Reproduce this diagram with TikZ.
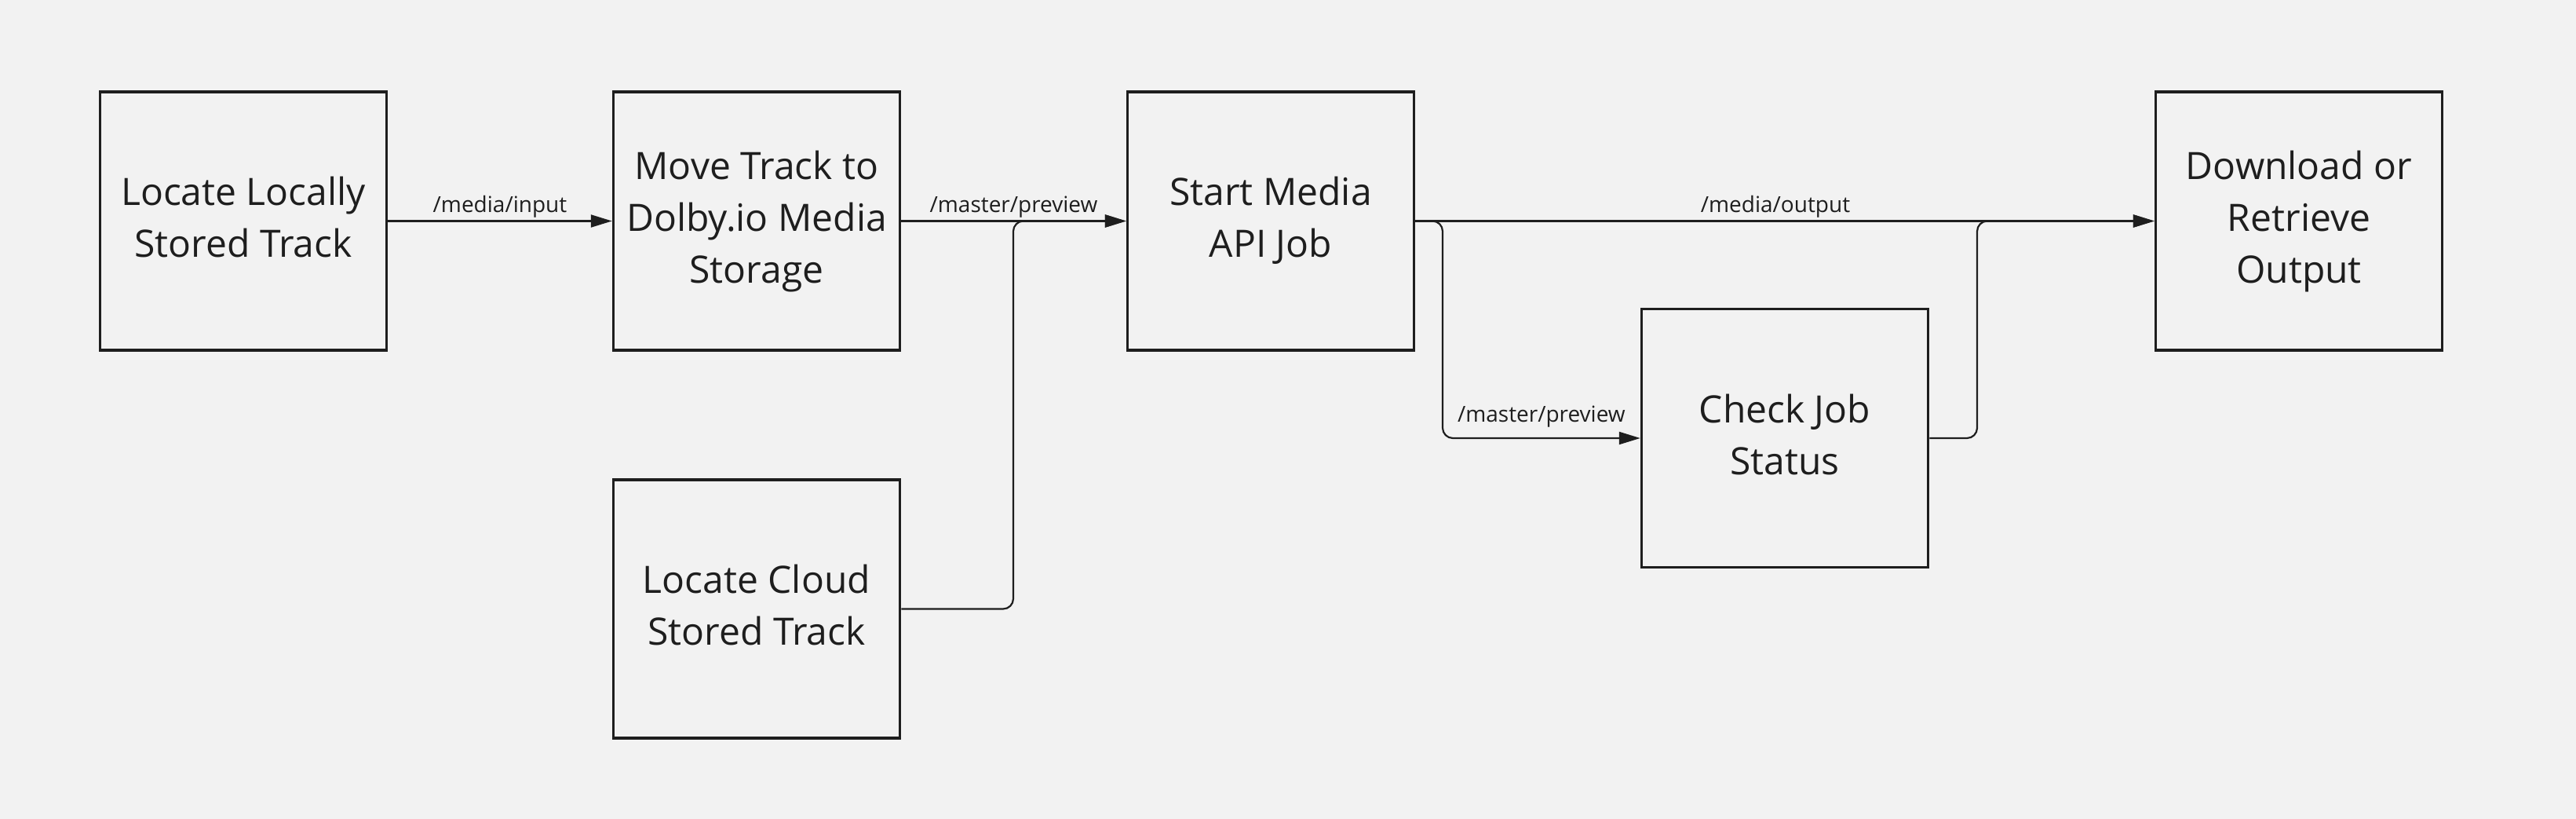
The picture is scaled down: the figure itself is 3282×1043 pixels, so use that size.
\documentclass[tikz,border=0pt]{standalone}
\usepackage{fontspec}
\setmainfont{Open Sans}
\usetikzlibrary{arrows.meta}
\definecolor{bg}{HTML}{F2F2F2}
\definecolor{ink}{HTML}{1E1E1E}
\newcommand\boxtext[1]{\begin{tabular}{@{}c@{}}#1\end{tabular}}
\begin{document}
\begin{tikzpicture}[x=1pt,y=-1pt,
  box/.style={draw=ink, line width=3.5pt, minimum width=365pt, minimum height=329pt,
    inner sep=0pt, text=ink, font=\fontsize{48}{66}\selectfont},
  conn/.style={draw=ink, line width=2.2pt, rounded corners=13pt,
    -{Triangle[length=27pt,width=16pt]}},
  lbl/.style={above=1pt, inner sep=2pt, text=ink, font=\fontsize{28}{32}\selectfont}]
\fill[bg] (0,0) rectangle (3282,1043);
\useasboundingbox (0,0) rectangle (3282,1043);

\node[box] (b1) at (310,281.5) {\boxtext{Locate Locally\\Stored Track}};
\node[box] (b2) at (964,281.5) {\boxtext{Move Track to\\Dolby.io Media\\Storage}};
\node[box] (b3) at (1619,281.5) {\boxtext{Start Media\\API Job}};
\node[box] (b4) at (2929,281.5) {\boxtext{Download or\\Retrieve\\Output}};
\node[box] (b5) at (964,775.5) {\boxtext{Locate Cloud\\Stored Track}};
\node[box] (b6) at (2274,558) {\boxtext{Check Job\\Status}};

\coordinate (j1) at (1291,281.5);
\coordinate (j2) at (1838,281.5);
\coordinate (j3) at (2519,281.5);

\draw[conn] (b1.east) -- node[lbl]{/media/input} (b2.west);
\draw[conn] (b2.east) -- node[lbl]{/master/preview} (b3.west);
\draw[conn] (b5.east) -- (j1 |- b5.east) -- (j1) -- (b3.west);
\draw[conn] (b3.east) -- node[lbl, xshift=-12pt]{/media/output} (b4.west);
\draw[conn] (b3.east) -- (j2) -- (j2 |- b6.west) -- node[lbl, above=10pt]{/master/preview} (b6.west);
\draw[conn] (b6.east) -- (j3 |- b6.east) -- (j3) -- (b4.west);
\end{tikzpicture}
\end{document}
